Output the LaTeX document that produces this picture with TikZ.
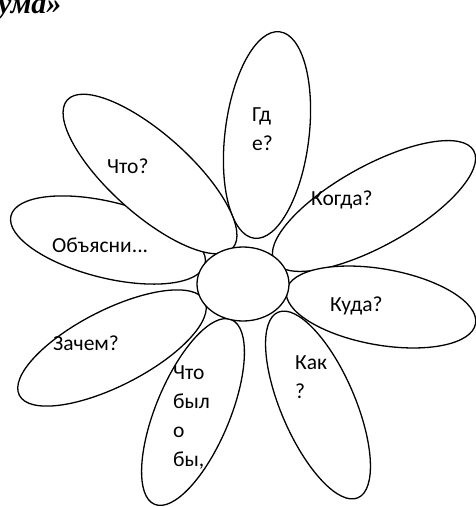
\documentclass[tikz,border=0pt]{standalone}
\usepackage{fontspec}
\newfontfamily\petalfont{Carlito}
\newfontfamily\titlefont{Liberation Serif}
\usepackage{tikz}
\usetikzlibrary{shapes.geometric}

\begin{document}
\begin{tikzpicture}[
    x=1pt, y=-1pt,
    petal/.style={draw, ellipse, fill=white, line width=1.3pt, inner sep=0pt},
    lbl/.style={font=\petalfont\fontsize{21.5}{29}\selectfont, inner sep=0pt, anchor=base west, align=left},
    ttl/.style={font=\titlefont\bfseries\itshape\fontsize{30}{34}\selectfont, inner sep=0pt, anchor=base west}
]
\useasboundingbox (0,0) rectangle (476,507);

\node[ttl] (title) at (-2,13) {ума»};

% petals, clockwise from the top
\node[petal, minimum width=208pt, minimum height=84pt, rotate=83] (gde) at (267,135) {};
\node[petal, minimum width=228pt, minimum height=80pt, rotate=29] (kogda) at (374,206) {};
\node[petal, minimum width=192pt, minimum height=76pt, rotate=-10] (kuda) at (381,307) {};
\node[petal, minimum width=202pt, minimum height=74pt, rotate=-66.7] (kak) at (318,405) {};
\node[petal, minimum width=208pt, minimum height=76pt, rotate=27] (zachem) at (112,348) {};
\node[petal, minimum width=200pt, minimum height=74pt, rotate=67.4] (chtobylo) at (193,412) {};
\node[petal, minimum width=200pt, minimum height=76pt, rotate=-14] (obyasni) at (108,240) {};
\node[petal, minimum width=222pt, minimum height=80pt, rotate=-41.8] (chto) at (150,174) {};
\node[petal, minimum width=92pt, minimum height=74pt] (core) at (243,284) {};

\node[lbl] (tgde) at (252,150) {Гд\\е?};
\node[lbl] (tkogda) at (311,205) {Когда?};
\node[lbl] (tkuda) at (330,311) {Куда?};
\node[lbl] (tkak) at (295,398) {Как\\?};
\node[lbl] (tchtobylo) at (173,466) {Что\\был\\о\\бы,};
\node[lbl] (tzachem) at (53,350) {Зачем?};
\node[lbl] (tobyasni) at (52,252) {Объясни...};
\node[lbl] (tchto) at (107,173) {Что?};
\end{tikzpicture}
\end{document}
